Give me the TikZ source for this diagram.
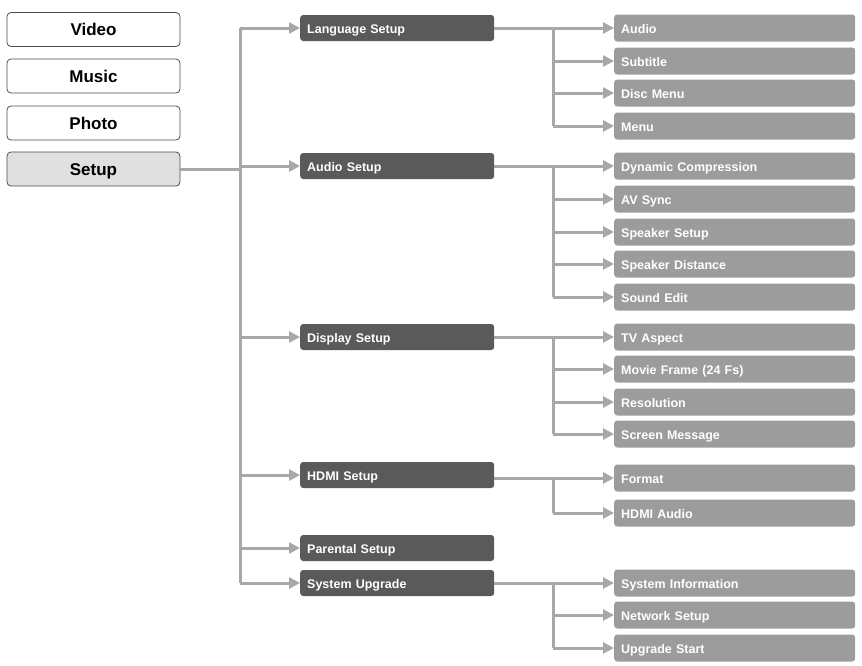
\documentclass[tikz,border=0pt]{standalone}
\usepackage{fontspec}
\setmainfont{Liberation Sans}
\usetikzlibrary{arrows.meta}
\definecolor{mid}{HTML}{5A5A5A}
\definecolor{sub}{HTML}{9C9C9C}
\definecolor{ln}{HTML}{A8A8A8}
\begin{document}
\begin{tikzpicture}[x=1pt,y=-1pt,
 left/.style={draw=black!70,line width=0.8pt,rounded corners=4pt,minimum width=173pt,minimum height=34pt,font=\bfseries\fontsize{17}{19}\selectfont,inner sep=0pt,text height=13pt,text depth=1pt},
 midb/.style={fill=mid,rounded corners=3pt,minimum width=194pt,minimum height=26pt,text=white,font=\bfseries\fontsize{12.5}{14}\selectfont,anchor=west,text width=180pt,align=left,text height=10.5pt,text depth=0.5pt},
 subb/.style={fill=sub,rounded corners=3pt,minimum width=241pt,minimum height=27pt,text=white,font=\bfseries\fontsize{12.5}{14}\selectfont,anchor=west,text width=227pt,align=left,text height=10.5pt,text depth=0.5pt},
 con/.style={draw=ln,line width=3pt},
 arr/.style={con,-{Triangle[length=11pt,width=11pt]}}]
\useasboundingbox (0,0) rectangle (862,665);
\node[left] (video) at (93.5,29.5) {Video};
\node[left] (music) at (93.5,76) {Music};
\node[left] (photo) at (93.5,123) {Photo};
\node[left,fill=black!12] (setup) at (93.5,169) {Setup};
\coordinate (t1) at (240,28);
\coordinate (t2) at (240,583);
\draw[con] (t1)--(t2);
\draw[con] (setup.east)--(240,169);
\foreach \n/\y/\t in {lang/28/Language Setup,aud/166/Audio Setup,disp/337/Display Setup,hdmi/475/HDMI Setup,par/548/Parental Setup,sys/583/System Upgrade}{
  \node[midb] (\n) at (300,\y) {\t};
  \draw[arr] (240,\y)--(\n.west);
}
\foreach \p/\list in {lang/{la/28/Audio,lb/61/Subtitle,lc/93/Disc Menu,ld/126/Menu},
 aud/{aa/166/Dynamic Compression,ab/199/AV Sync,ac/232/Speaker Setup,ad/264/Speaker Distance,ae/297/Sound Edit},
 disp/{da/337/TV Aspect,db/369/Movie Frame (24 Fs),dc/402/Resolution,dd/434/Screen Message},
 hdmi/{ha/478/Format,hb/513/HDMI Audio},
 sys/{sa/583/System Information,sb/615/Network Setup,sc/648/Upgrade Start}}{
  \foreach \n/\y/\t [count=\i] in \list{
    \node[subb] (\n) at (614,\y) {\t};
    \ifnum\i=1
      \draw[con] (\p.east |- \n.west)--(553,\y);
      \xdef\ystart{\y}
    \fi
    \draw[arr] (553,\y)--(\n.west);
    \xdef\yend{\y}
  }
  \draw[con] (553,\ystart)--(553,\yend);
}
\end{tikzpicture}
\end{document}
